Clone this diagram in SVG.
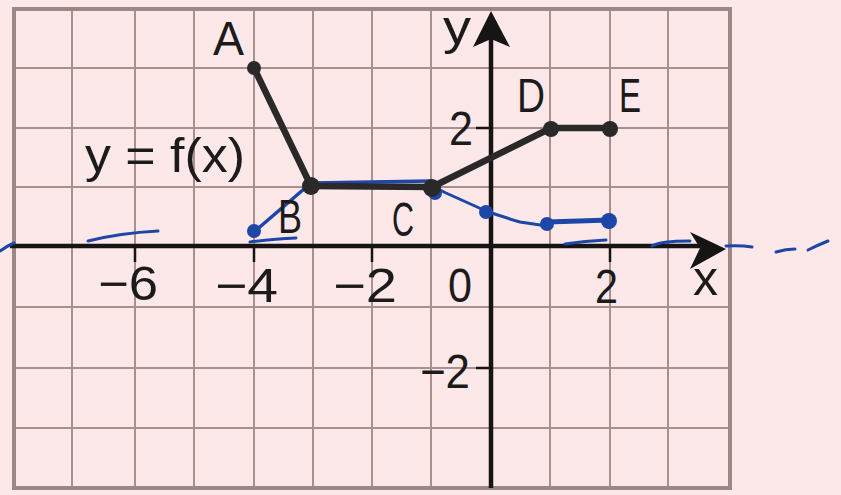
<svg xmlns="http://www.w3.org/2000/svg" width="841" height="495" viewBox="0 0 841 495">
<style>
.grid{stroke:#a8908f;stroke-width:2;fill:none}
.border{stroke:#9c8686;stroke-width:4;fill:none}
.axis{stroke:#161414;stroke-width:4.5;fill:none}
.tick{stroke:#161414;stroke-width:2.5}
.graph{stroke:#2a2828;stroke-width:6.5;fill:none;stroke-linejoin:round;stroke-linecap:round}
.dot{fill:#2a2828}
.blue{stroke:#1c47a8;stroke-width:3;fill:none;stroke-linecap:round;stroke-linejoin:round}
.bdot{fill:#1c47a8}
text{font-family:"Liberation Sans","DejaVu Sans",sans-serif;font-size:48px;fill:#1c1a1a}
</style>
<rect width="841" height="495" fill="#fce8e9"/>
<g id="grid">
<path class="grid" d="M72 8V488M135 8V488M194 8V488M254 8V488M313 8V488M372 8V488M431 8V488M550 8V488M610 8V488M668 8V488"/>
<path class="grid" d="M14 68H730M14 128H730M14 187H730M14 307H730M14 368H730M14 428H730"/>
<rect class="border" x="14" y="9" width="716" height="479"/>
</g>
<g id="axes">
<path class="axis" d="M10 246H700"/>
<polygon points="726,249 690,232 700,248 690,269" fill="#161414"/>
<path class="axis" d="M491 488V30"/>
<polygon points="491,11 473,47 491,39 510,47" fill="#161414"/>
<path class="tick" d="M135 246V262M254 246V262M372 246V262M610 246V262M476 128H491M476 368H491"/>
</g>
<g id="blue-sketch">
<path class="blue" d="M0 251Q7 246 14 243"/>
<path class="blue" d="M88 241Q120 233 158 231"/>
<path class="blue" d="M250 242Q275 239 296 238"/>
<path class="blue" d="M254 232L311 183L431 181" style="stroke-width:3.5"/>
<path class="blue" d="M432 186Q440 190 446 193L486 211Q500 216 520 222L547 226"/>
<path class="blue" d="M547 222L610 220" style="stroke-width:5"/>
<path class="blue" d="M565 244Q585 241 606 240"/>
<path class="blue" d="M652 246Q660 241 690 241"/>
<path class="blue" d="M726 246Q740 245 752 247"/>
<path class="blue" d="M776 252Q786 249 795 249"/>
<path class="blue" d="M808 250Q818 245 828 241"/>
<circle class="bdot" cx="254" cy="231" r="7"/>
<circle class="bdot" cx="486" cy="212" r="7"/>
<circle class="bdot" cx="547" cy="224" r="7"/>
<circle class="bdot" cx="609" cy="221" r="8"/>
<circle class="bdot" cx="435" cy="193" r="7"/>
</g>
<g id="graph">
<path class="graph" d="M254 68L311 186L432 187L551 128L610 128"/>
<circle id="A" class="dot" cx="254" cy="68" r="7"/>
<circle id="B" class="dot" cx="311" cy="186" r="9"/>
<circle id="C" class="dot" cx="432" cy="188" r="9"/>
<circle id="D" class="dot" cx="551" cy="129" r="8"/>
<circle id="E" class="dot" cx="610" cy="129" r="8"/>
</g>
<g id="labels">
<text x="213" y="55" textLength="31" lengthAdjust="spacingAndGlyphs">A</text>
<text x="443" y="44" textLength="28" lengthAdjust="spacingAndGlyphs">y</text>
<text x="517" y="112" textLength="28" lengthAdjust="spacingAndGlyphs">D</text>
<text x="619" y="112" textLength="22" lengthAdjust="spacingAndGlyphs">E</text>
<text x="449" y="145" textLength="24" lengthAdjust="spacingAndGlyphs">2</text>
<text x="278" y="233" textLength="24" lengthAdjust="spacingAndGlyphs">B</text>
<text x="392" y="236" textLength="22" lengthAdjust="spacingAndGlyphs">C</text>
<text x="85" y="172" textLength="160" lengthAdjust="spacingAndGlyphs">y = f(x)</text>
<text x="98" y="300" textLength="60" lengthAdjust="spacingAndGlyphs">−6</text>
<text x="215" y="302" textLength="63" lengthAdjust="spacingAndGlyphs">−4</text>
<text x="333" y="302" textLength="64" lengthAdjust="spacingAndGlyphs">−2</text>
<text x="448" y="302" textLength="24" lengthAdjust="spacingAndGlyphs">0</text>
<text x="595" y="303" textLength="23" lengthAdjust="spacingAndGlyphs">2</text>
<text x="693" y="295" textLength="25" lengthAdjust="spacingAndGlyphs">x</text>
<text x="420" y="388" textLength="50" lengthAdjust="spacingAndGlyphs">−2</text>
</g>
</svg>
